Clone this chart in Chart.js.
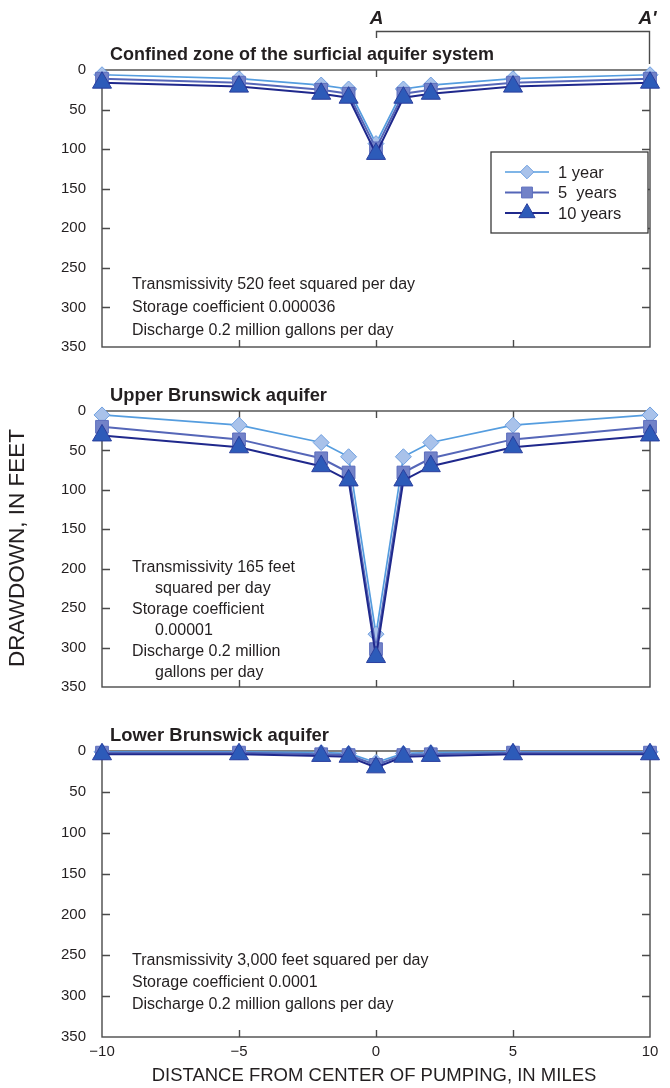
<!DOCTYPE html>
<html><head><meta charset="utf-8">
<script src="https://cdn.jsdelivr.net/npm/chart.js@4.4.1/dist/chart.umd.min.js"></script>
<style>
html,body{margin:0;padding:0;background:#fff;}
body{width:670px;height:1088px;position:relative;overflow:hidden;}
canvas{position:absolute;left:0;}
</style></head><body>
<canvas id="c1" width="670" height="372" style="top:0px"></canvas>
<canvas id="c2" width="670" height="340" style="top:372px"></canvas>
<canvas id="c3" width="670" height="376" style="top:712px"></canvas>
<script>
// ---------- data ----------
const distances = [-10, -5, -2, -1, 0, 1, 2, 5, 10];
const seriesLabels = ['1 year', '5  years', '10 years'];
const xTickValues = [-10, -5, 0, 5, 10];
const yTickValues = [0, 50, 100, 150, 200, 250, 300, 350];

const confined1yr  = [6, 11, 19, 24, 93, 24, 19, 11, 6];
const confined5yr  = [11, 16, 25, 30, 99, 30, 25, 16, 11];
const confined10yr = [16, 21, 30, 35, 106, 35, 30, 21, 16];

const upper1yr  = [5, 18, 40, 58, 283, 58, 40, 18, 5];
const upper5yr  = [20, 36, 60, 78, 302, 78, 60, 36, 20];
const upper10yr = [31, 46, 70, 88, 312, 88, 70, 46, 31];

const lower1yr  = [1, 1, 2, 3, 14, 3, 2, 1, 1];
const lower5yr  = [2, 2, 4, 5, 17, 5, 4, 2, 2];
const lower10yr = [4, 4, 6, 7, 20, 7, 6, 4, 4];

const panelTitles = ['Confined zone of the surficial aquifer system', 'Upper Brunswick aquifer', 'Lower Brunswick aquifer'];
const confinedNotes = ['Transmissivity 520 feet squared per day', 'Storage coefficient 0.000036', 'Discharge 0.2 million gallons per day'];
const upperNotes = ['Transmissivity 165 feet', '   squared per day', 'Storage coefficient', '   0.00001', 'Discharge 0.2 million', '   gallons per day'];
const lowerNotes = ['Transmissivity 3,000 feet squared per day', 'Storage coefficient 0.0001', 'Discharge 0.2 million gallons per day'];
const yAxisTitle = 'DRAWDOWN, IN FEET';
const xAxisTitle = 'DISTANCE FROM CENTER OF PUMPING, IN MILES';

// ---------- styles ----------
const FONT = "'Liberation Sans', Arial, Helvetica, sans-serif";
const TXT = '#231f20';
const AX = '#4a4a4a';
const styles = [
  {line: '#559ddf', fill: '#a9c2ea', edge: '#6fa0e0', shape: 'rectRot', r: 8, lw: 1.7, order: 3},
  {line: '#5566b8', fill: '#7282c8', edge: '#5d6ebd', shape: 'rect', r: 9, lw: 2, order: 2},
  {line: '#1f288c', fill: '#2d5bb9', edge: '#2a3f9e', shape: 'triangle', r: 11, lw: 2, order: 1}
];

function mkDatasets(arrs) {
  return arrs.map((a, i) => ({
    label: seriesLabels[i],
    data: distances.map((d, k) => ({x: d, y: a[k]})),
    borderColor: styles[i].line,
    borderWidth: styles[i].lw,
    backgroundColor: styles[i].fill,
    pointStyle: styles[i].shape,
    pointRadius: styles[i].r,
    pointHoverRadius: styles[i].r,
    pointBackgroundColor: styles[i].fill,
    pointBorderColor: styles[i].edge,
    pointBorderWidth: 1,
    tension: 0,
    clip: false,
    order: styles[i].order
  }));
}

function drawMarker(ctx, shape, r, x, y) {
  ctx.beginPath();
  if (shape === 'rectRot') {
    ctx.moveTo(x - r, y); ctx.lineTo(x, y - r); ctx.lineTo(x + r, y); ctx.lineTo(x, y + r);
  } else if (shape === 'rect') {
    const s = Math.SQRT1_2 * r; ctx.rect(x - s, y - s, 2 * s, 2 * s);
  } else {
    const a = 2 * Math.PI / 3;
    ctx.moveTo(x, y - r);
    ctx.lineTo(x + Math.sin(a) * r, y - Math.cos(a) * r);
    ctx.lineTo(x + Math.sin(2 * a) * r, y - Math.cos(2 * a) * r);
  }
  ctx.closePath(); ctx.fill(); ctx.stroke();
}

function fitText(ctx, text, x, y, targetW) {
  const w = ctx.measureText(text).width;
  ctx.save(); ctx.translate(x, y); ctx.scale(targetW / w, 1); ctx.fillText(text, 0, 0); ctx.restore();
}

const deco = {
  id: 'deco',
  beforeDatasetsDraw(chart) {
    const ctx = chart.ctx; const {left, right, top, bottom} = chart.chartArea;
    const xs = chart.scales.x, ys = chart.scales.y;
    ctx.save();
    ctx.strokeStyle = AX; ctx.lineWidth = 1.4;
    ctx.strokeRect(left, top, right - left, bottom - top);
    ctx.beginPath();
    yTickValues.forEach(v => {
      if (v === 0 || v === 350) return;
      const y = Math.round(ys.getPixelForValue(v)) + 0.5;
      ctx.moveTo(left, y); ctx.lineTo(left + 8, y);
      ctx.moveTo(right - 8, y); ctx.lineTo(right, y);
    });
    xTickValues.forEach(v => {
      if (v === -10 || v === 10) return;
      const x = Math.round(xs.getPixelForValue(v)) + 0.5;
      ctx.moveTo(x, top); ctx.lineTo(x, top + 7);
      ctx.moveTo(x, bottom); ctx.lineTo(x, bottom - 7);
    });
    ctx.stroke();
    ctx.restore();
  },
  afterDraw(chart) {
    const o = chart.config.options.deco;
    const ctx = chart.ctx; const xs = chart.scales.x;
    ctx.save();
    ctx.fillStyle = TXT; ctx.textBaseline = 'alphabetic'; ctx.textAlign = 'left';
    ctx.font = "bold 19px " + FONT;
    fitText(ctx, o.title, 110, o.titleY, o.titleW);
    ctx.font = "16px " + FONT; ctx.textBaseline = 'middle';
    o.notes.forEach((t, i) => {
      const ind = t.startsWith('   ');
      ctx.fillText(t.trim(), ind ? 155 : 132, o.notesY + i * o.notesDy);
    });
    if (o.legend) {
      const bx = 491, by = 152, bw = 157, bh = 81;
      ctx.fillStyle = '#fff'; ctx.fillRect(bx, by, bw, bh);
      ctx.strokeStyle = '#3a3a3a'; ctx.lineWidth = 1.3; ctx.strokeRect(bx, by, bw, bh);
      seriesLabels.forEach((lab, i) => {
        const y = 172 + i * 20.5; const s = styles[i];
        ctx.strokeStyle = s.line; ctx.lineWidth = s.lw;
        ctx.beginPath(); ctx.moveTo(505, y); ctx.lineTo(549, y); ctx.stroke();
        ctx.fillStyle = s.fill; ctx.strokeStyle = s.edge; ctx.lineWidth = 1;
        drawMarker(ctx, s.shape, s.r * 0.85, 527, y);
        ctx.fillStyle = TXT; ctx.font = "16.5px " + FONT; ctx.textBaseline = 'middle'; ctx.textAlign = 'left';
        ctx.fillText(lab, 558, y + 1);
      });
    }
    if (o.bracket) {
      const xa = Math.round(xs.getPixelForValue(0)) + 0.5, xb = Math.round(xs.getPixelForValue(10)) - 0.5;
      ctx.strokeStyle = AX; ctx.lineWidth = 1.4;
      ctx.beginPath();
      ctx.moveTo(xa, 38); ctx.lineTo(xa, 31.5); ctx.lineTo(xb, 31.5); ctx.lineTo(xb, 64);
      ctx.stroke();
      ctx.fillStyle = TXT; ctx.font = "italic bold 19px " + FONT; ctx.textBaseline = 'alphabetic'; ctx.textAlign = 'center';
      ctx.fillText('A', xa, 24);
      ctx.fillText("A'", xb - 2, 24);
    }
    if (o.yTitle) {
      ctx.save(); ctx.translate(18, 176); ctx.rotate(-Math.PI / 2);
      ctx.fillStyle = TXT; ctx.font = "22.5px " + FONT; ctx.textAlign = 'center'; ctx.textBaseline = 'middle';
      ctx.fillText(yAxisTitle, 0, 0);
      ctx.restore();
    }
    if (o.xTitle) {
      ctx.fillStyle = TXT; ctx.font = "18.5px " + FONT; ctx.textAlign = 'center'; ctx.textBaseline = 'middle';
      ctx.fillText(xAxisTitle, 374, 364);
    }
    ctx.restore();
  }
};

function makeChart(id, arrs, pad, showX, deco_o) {
  return new Chart(document.getElementById(id), {
    type: 'line',
    data: {datasets: mkDatasets(arrs)},
    plugins: [deco],
    options: {
      responsive: false, animation: false, devicePixelRatio: 1,
      layout: {padding: pad},
      deco: deco_o,
      plugins: {legend: {display: false}, tooltip: {enabled: false}, title: {display: false}},
      events: [],
      scales: {
        x: {
          type: 'linear', min: -10, max: 10,
          afterBuildTicks: s => { s.ticks = xTickValues.map(v => ({value: v})); },
          ticks: {display: showX, padding: 6, color: TXT, font: {family: FONT, size: 15},
                  callback: v => v < 0 ? '\u2212' + Math.abs(v) : String(v)},
          grid: {display: false, drawTicks: false}, border: {display: false},
          afterFit: s => { s.height = showX ? 30 : 0; }
        },
        y: {
          min: 0, max: 350, reverse: true,
          afterBuildTicks: s => { s.ticks = yTickValues.map(v => ({value: v})); },
          ticks: {padding: 16, color: TXT, font: {family: FONT, size: 15}},
          grid: {display: false, drawTicks: false}, border: {display: false},
          afterFit: s => { s.width = 102; }
        }
      }
    }
  });
}

makeChart('c1', [confined1yr, confined5yr, confined10yr], {top: 70, bottom: 18, left: 0, right: 20}, false,
  {title: panelTitles[0], titleY: 60, titleW: 384, notes: confinedNotes, notesY: 285, notesDy: 23, legend: true, bracket: true});
makeChart('c2', [upper1yr, upper5yr, upper10yr], {top: 39, bottom: 20, left: 0, right: 20}, false,
  {title: panelTitles[1], titleY: 29, titleW: 217, notes: upperNotes, notesY: 196, notesDy: 21, yTitle: true});
makeChart('c3', [lower1yr, lower5yr, lower10yr], {top: 39, bottom: 21, left: 0, right: 20}, true,
  {title: panelTitles[2], titleY: 29, titleW: 219, notes: lowerNotes, notesY: 249, notesDy: 22, xTitle: true});
</script>
</body></html>
